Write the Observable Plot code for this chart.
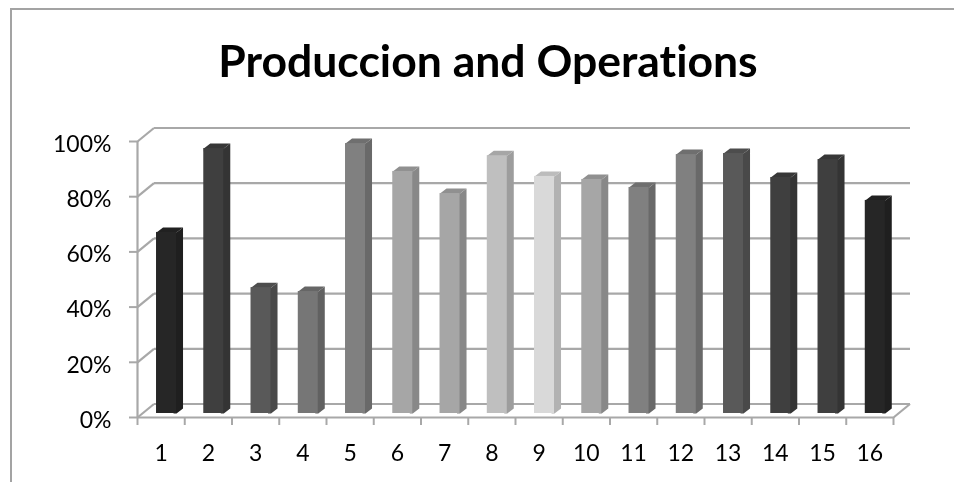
<!DOCTYPE html>
<html>
<head>
<meta charset="utf-8">
<script src="https://cdn.jsdelivr.net/npm/d3@7"></script>
<script src="https://cdn.jsdelivr.net/npm/@observablehq/plot@0.6"></script>
<style>
  html, body { margin: 0; padding: 0; background: #fff; overflow: hidden; width: 954px; height: 482px; }
  #frame { position: absolute; left: 10px; top: 8px; width: 944px; height: 474px; box-sizing: border-box;
           border-top: 2px solid #a3a3a3; border-left: 2px solid #a3a3a3; pointer-events: none; }
  #title { position: absolute; left: 0; top: 0; width: 976px; height: 100px; text-align: center;
           font: 700 44.5px/120px Lato, sans-serif; color: #000; white-space: nowrap;
           font-variant-ligatures: none; filter: blur(0.5px); }
  #chart { position: absolute; left: 0; top: 100px; filter: blur(0.5px); }
  svg { display: block; font-variant-ligatures: none; }
</style>
</head>
<body>
<div id="frame"></div>
<div id="title">Produccion and Operations</div>
<div id="chart"></div>
<script>
const categories = [1, 2, 3, 4, 5, 6, 7, 8, 9, 10, 11, 12, 13, 14, 15, 16];
const values = [65.6, 96, 45.6, 44.2, 97.8, 87.7, 79.7, 93.4, 85.9, 84.8, 81.9, 93.8, 94.2, 85.5, 92, 77.2];
const greys = ["#262626", "#3f3f3f", "#595959", "#767676", "#808080", "#a6a6a6", "#a6a6a6", "#bfbfbf",
               "#d9d9d9", "#a6a6a6", "#808080", "#808080", "#595959", "#3f3f3f", "#3f3f3f", "#262626"];
const yTicks = [0, 20, 40, 60, 80, 100];

// oblique projection of the depth axis, expressed in data units
const stepPx = 47.25, pctPx = 2.76;
const wallX = 16.5 / stepPx, wallY = 13.5 / pctPx;      // floor depth
const barY = 4 / pctPx;                                 // bar plane inside the floor
const barL = -4.6 / stepPx, barW = 20 / stepPx;         // bar front face
const sideX = 6.5 / stepPx, sideY = 5 / pctPx;          // bar depth
const lapX = 3 / stepPx, lapY = 3 / pctPx;              // faces run under the front face, so no seam shows

const bars = categories.map((c, i) => ({
  c, v: values[i], fill: greys[i],
  side: d3.color(greys[i]).darker(0.55).formatHex(),
  top: d3.color(greys[i]).darker(0.4).formatHex(),
  x1: c + barL, x2: c + barL + barW, base: barY
}));

const polys = bars.flatMap(b => {
  const top = b.v + barY;
  return [
    {id: b.c + "s", fill: b.side, pts: [[b.x2 - lapX, b.base], [b.x2, b.base], [b.x2 + sideX, b.base + sideY], [b.x2 + sideX, top + sideY], [b.x2, top], [b.x2 - lapX, top]]},
    {id: b.c + "t", fill: b.top, pts: [[b.x1, top - lapY], [b.x2, top - lapY], [b.x2, top], [b.x2 + sideX, top + sideY], [b.x1 + sideX, top + sideY], [b.x1, top]]}
  ].flatMap(p => p.pts.map(([x, y]) => ({id: p.id, fill: p.fill, x, y})));
});

const gridColor = "#a8a8a8", gridW = 2.2;
const xMin = 0.5, xMax = 16.5;
const tickFont = {fontSize: 23};

const plot = Plot.plot({
  width: 954, height: 382,
  marginLeft: 137, marginRight: 61, marginTop: 41, marginBottom: 65,
  style: {fontFamily: "Lato, sans-serif", color: "#000", background: "transparent", overflow: "visible"},
  x: {type: "linear", domain: [xMin, xMax]},
  y: {type: "linear", domain: [0, 100]},
  marks: [
    // back wall gridlines and their diagonals to the front axis
    Plot.link(yTicks, {x1: xMin + wallX, x2: xMax + wallX, y1: d => d + wallY, y2: d => d + wallY, stroke: gridColor, strokeWidth: gridW}),
    Plot.link(yTicks, {x1: xMin, x2: xMin + wallX, y1: d => d, y2: d => d + wallY, stroke: gridColor, strokeWidth: gridW}),
    // floor: right diagonal, front edge, front vertical axis
    Plot.link([0], {x1: xMax, x2: xMax + wallX, y1: 0, y2: wallY, stroke: gridColor, strokeWidth: gridW}),
    Plot.ruleY([0], {stroke: gridColor, strokeWidth: gridW}),
    Plot.ruleX([xMin], {y1: 0, y2: 100, stroke: gridColor, strokeWidth: gridW}),
    // tick marks
    Plot.axisY({ticks: yTicks, tickSize: 8, tickFormat: () => "", label: null, stroke: gridColor, strokeWidth: 2}),
    Plot.axisY({ticks: yTicks, tickSize: 0, tickPadding: 26, dy: 3, tickFormat: d => d + "%", label: null, ...tickFont, fill: "#000"}),
    Plot.axisX({ticks: d3.range(0.5, 17), tickSize: 8, tickFormat: () => "", label: null, stroke: gridColor, strokeWidth: 2}),
    Plot.axisX({ticks: categories, tickSize: 0, tickPadding: 27, tickFormat: d => String(d), label: null, ...tickFont, fill: "#000"}),
    // bars: side and top faces, then the front face
    Plot.line(polys, {x: "x", y: "y", z: "id", fill: "fill", stroke: null}),
    Plot.rect(bars, {x1: "x1", x2: "x2", y1: "base", y2: d => d.v + barY, fill: "fill"})
  ]
});
document.getElementById("chart").appendChild(plot);
</script>
</body>
</html>
